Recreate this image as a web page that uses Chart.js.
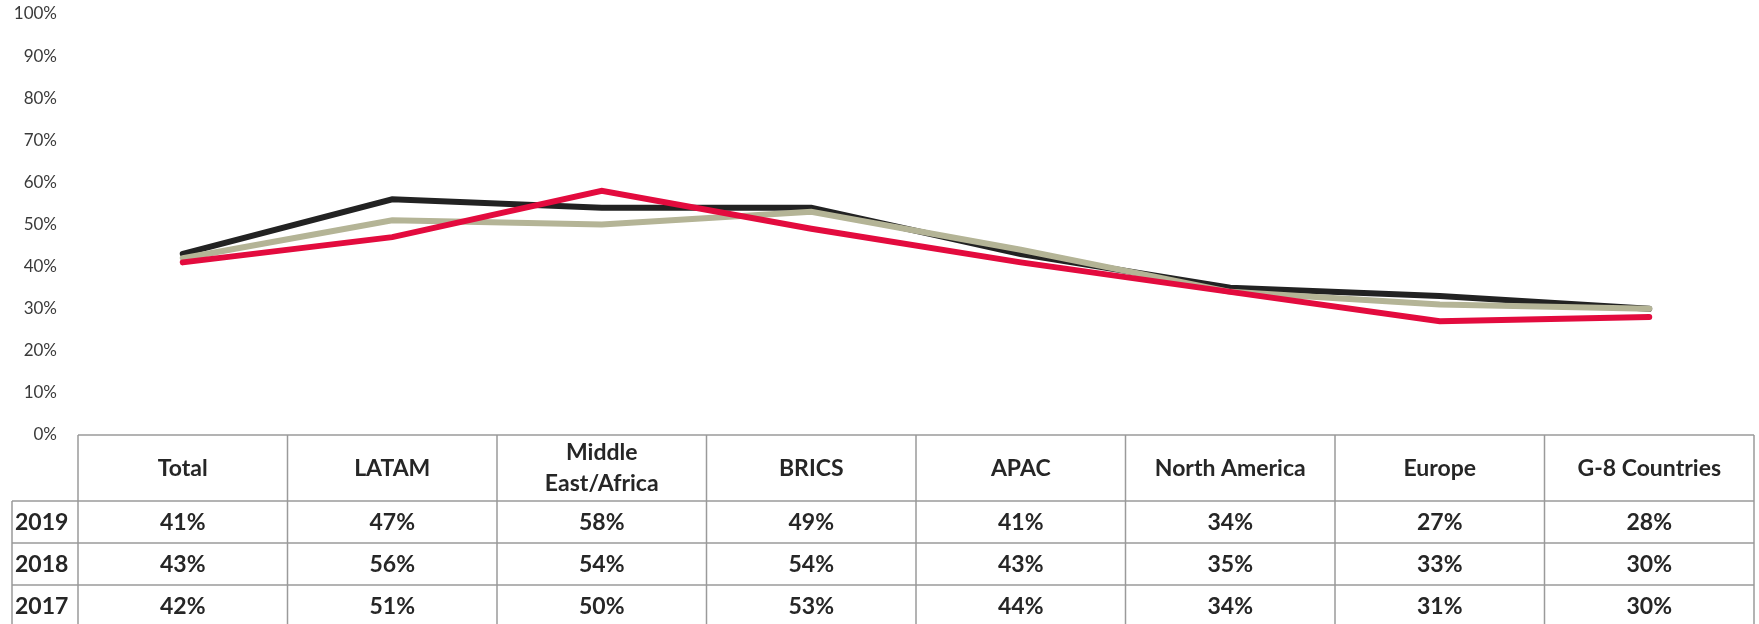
<!DOCTYPE html>
<html>
<head>
<meta charset="utf-8">
<script src="https://cdn.jsdelivr.net/npm/chart.js@4/dist/chart.umd.min.js"></script>
<style>
  html, body { margin: 0; padding: 0; background: #ffffff; }
  #wrap { width: 1759px; height: 624px; position: relative; }
</style>
</head>
<body>
<div id="wrap"><canvas id="grafico"></canvas></div>
<script>
// Regiões (categorias do eixo X)
const regioes = ['Total', 'LATAM', 'Middle East/Africa', 'BRICS', 'APAC', 'North America', 'Europe', 'G-8 Countries'];

// Anos (séries)
const anos = ['2019', '2018', '2017'];

// Valores em %
const v2019 = [41, 47, 58, 49, 41, 34, 27, 28];
const v2018 = [43, 56, 54, 54, 43, 35, 33, 30];
const v2017 = [42, 51, 50, 53, 44, 34, 31, 30];

// Rótulos do eixo Y
const ticksY = [0, 10, 20, 30, 40, 50, 60, 70, 80, 90, 100];

const series = [v2019, v2018, v2017];
const cores = ['#e30b3e', '#222222', '#b4b496'];
const ordem = [0, 2, 1];

const FONTE = 'Lato, "Open Sans", sans-serif';

// Tabela de dados desenhada abaixo do gráfico
const tabelaPlugin = {
  id: 'tabela',
  afterDraw(chart) {
    const ctx = chart.ctx;
    const x = chart.scales.x;
    const area = chart.chartArea;
    const passo = (area.right - area.left) / regioes.length;
    const topo = area.bottom;
    const hCab = 66;
    const hLinha = 42;
    const esq = 12;

    ctx.save();
    ctx.strokeStyle = '#9a9a9a';
    ctx.lineWidth = 1.5;

    // linhas horizontais
    ctx.beginPath();
    ctx.moveTo(area.left, topo);
    ctx.lineTo(area.right, topo);
    for (let r = 0; r <= anos.length; r++) {
      const y = topo + hCab + r * hLinha;
      ctx.moveTo(esq, y);
      ctx.lineTo(area.right, y);
    }
    // linhas verticais
    for (let c = 0; c <= regioes.length; c++) {
      const xx = area.left + c * passo;
      ctx.moveTo(xx, topo);
      ctx.lineTo(xx, chart.height + 5);
    }
    ctx.moveTo(esq, topo + hCab);
    ctx.lineTo(esq, chart.height + 5);
    ctx.stroke();

    ctx.fillStyle = '#262626';
    ctx.font = 'bold 23px ' + FONTE;
    ctx.textAlign = 'center';
    ctx.textBaseline = 'middle';

    // cabeçalho
    regioes.forEach((nome, i) => {
      const cx = x.getPixelForValue(i);
      const cy = topo + hCab / 2 + 1;
      if (nome === 'Middle East/Africa') {
        ctx.fillText('Middle', cx, cy - 16);
        ctx.fillText('East/Africa', cx, cy + 15);
      } else {
        ctx.fillText(nome, cx, cy);
      }
    });

    // linhas de valores
    anos.forEach((ano, r) => {
      const cy = topo + hCab + r * hLinha + hLinha / 2 + 1;
      ctx.textAlign = 'left';
      ctx.fillText(ano, esq + 3, cy);
      ctx.textAlign = 'center';
      series[r].forEach((v, i) => {
        ctx.fillText(v + '%', x.getPixelForValue(i), cy);
      });
    });
    ctx.restore();
  }
};

const data = {
  labels: regioes,
  datasets: anos.map((ano, i) => ({
    label: ano,
    data: series[i],
    borderColor: cores[i],
    backgroundColor: cores[i],
    borderWidth: 6,
    borderCapStyle: 'round',
    pointRadius: 0,
    tension: 0,
    order: ordem[i]
  }))
};

const config = {
  type: 'line',
  data: data,
  options: {
    responsive: true,
    maintainAspectRatio: false,
    animation: false,
    layout: { autoPadding: false, padding: { top: 14, right: 5, bottom: 189, left: 0 } },
    plugins: {
      legend: { display: false },
      tooltip: { enabled: false }
    },
    scales: {
      x: {
        offset: true,
        ticks: { display: false },
        grid: { display: false, drawTicks: false },
        border: { display: false }
      },
      y: {
        min: 0,
        max: 100,
        afterFit(s) { s.width = 78; s.paddingTop = 0; s.paddingBottom = 0; },
        afterBuildTicks(s) { s.ticks = ticksY.map(v => ({ value: v })); },
        ticks: {
          padding: 21,
          color: '#3a3a3a',
          font: { family: FONTE, size: 17 },
          callback: v => v + '%'
        },
        grid: { display: false, drawTicks: false },
        border: { display: false }
      }
    }
  },
  plugins: [tabelaPlugin]
};

new Chart(document.getElementById('grafico'), config);
</script>
</body>
</html>
